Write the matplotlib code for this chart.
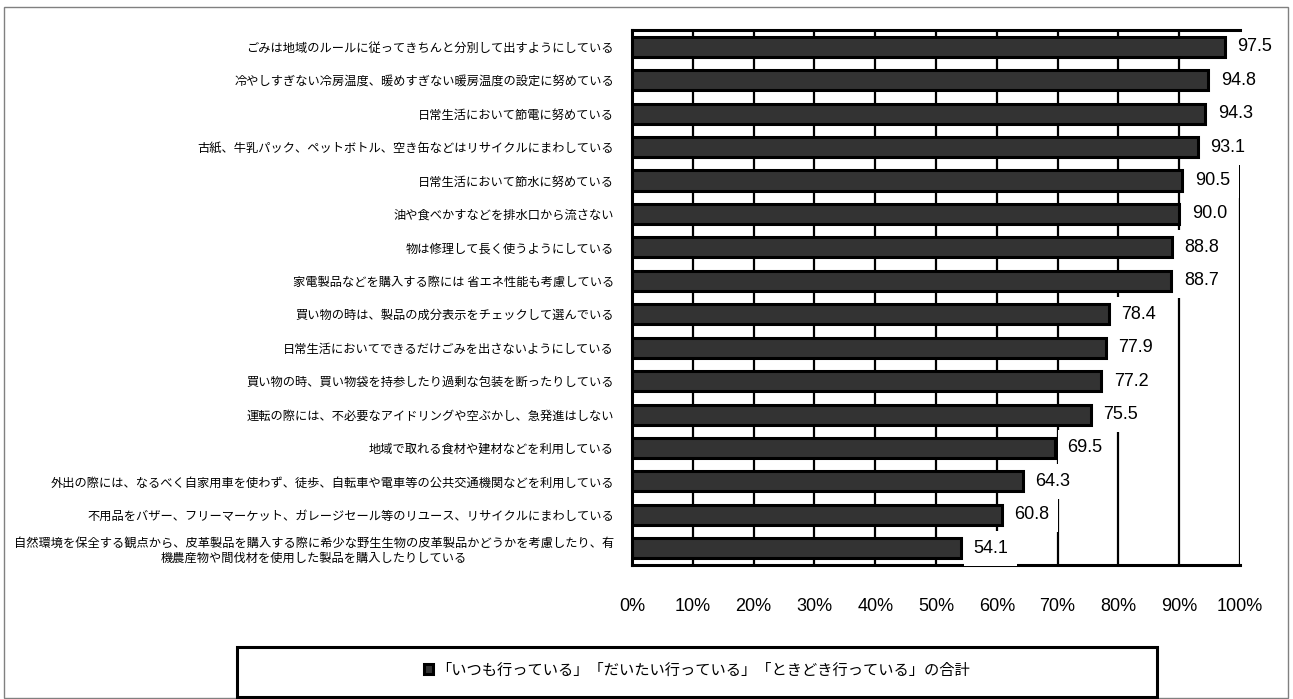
import matplotlib
matplotlib.use("Agg")
import matplotlib.pyplot as plt
from matplotlib.patches import Rectangle
import numpy as np

plt.rcParams['font.family'] = ['Noto Sans CJK JP', 'DejaVu Sans']

categories = [
    "ごみは地域のルールに従ってきちんと分別して出すようにしている",
    "冷やしすぎない冷房温度、暖めすぎない暖房温度の設定に努めている",
    "日常生活において節電に努めている",
    "古紙、牛乳パック、ペットボトル、空き缶などはリサイクルにまわしている",
    "日常生活において節水に努めている",
    "油や食べかすなどを排水口から流さない",
    "物は修理して長く使うようにしている",
    "家電製品などを購入する際には 省エネ性能も考慮している",
    "買い物の時は、製品の成分表示をチェックして選んでいる",
    "日常生活においてできるだけごみを出さないようにしている",
    "買い物の時、買い物袋を持参したり過剰な包装を断ったりしている",
    "運転の際には、不必要なアイドリングや空ぶかし、急発進はしない",
    "地域で取れる食材や建材などを利用している",
    "外出の際には、なるべく自家用車を使わず、徒歩、自転車や電車等の公共交通機関などを利用している",
    "不用品をバザー、フリーマーケット、ガレージセール等のリユース、リサイクルにまわしている",
    "自然環境を保全する観点から、皮革製品を購入する際に希少な野生生物の皮革製品かどうかを考慮したり、有\n機農産物や間伐材を使用した製品を購入したりしている",
]
values = [97.5, 94.8, 94.3, 93.1, 90.5, 90.0, 88.8, 88.7, 78.4, 77.9, 77.2, 75.5, 69.5, 64.3, 60.8, 54.1]
xticks = [0, 10, 20, 30, 40, 50, 60, 70, 80, 90, 100]
xticklabels = ["0%", "10%", "20%", "30%", "40%", "50%", "60%", "70%", "80%", "90%", "100%"]
legend_label = "「いつも行っている」「だいたい行っている」「ときどき行っている」の合計"

W, H = 1293, 699
fig = plt.figure(figsize=(W / 100, H / 100), dpi=100)

# outer gray border
fig.patches.append(Rectangle((4 / W, 0.002), (1288 - 4) / W, 1 - 7 / H - 0.002,
                             transform=fig.transFigure, fill=False,
                             edgecolor='#808080', linewidth=1.0))

ax = fig.add_axes([632 / W, 1 - 565 / H, (1240 - 632) / W, (565 - 30) / H])

y = np.arange(len(values))
bars = ax.barh(y, values, height=0.6, color='#333333', edgecolor='black',
               linewidth=2.2, zorder=3)
ax.set_xlim(0, 100)
ax.set_ylim(len(values) - 0.5, -0.5)

ax.set_yticks(y)
ax.set_yticklabels(categories, fontsize=8.8, multialignment='center')
ax.set_xticks(xticks)
ax.set_xticklabels(xticklabels, fontsize=13, family=['Liberation Sans', 'DejaVu Sans'])
ax.tick_params(axis='both', length=0)
ax.tick_params(axis='x', pad=24)
ax.tick_params(axis='y', pad=13)

ax.xaxis.grid(True, color='black', linewidth=1.6, zorder=1)
ax.set_axisbelow(True)
for s in ['top', 'left', 'bottom']:
    ax.spines[s].set_linewidth(2.2)
    ax.spines[s].set_color('black')
ax.spines['top'].set_zorder(8)
ax.spines['right'].set_visible(False)

for yi, v in zip(y, values):
    ax.annotate(f"{v:.1f}", xy=(v, yi), xytext=(9, 0), textcoords='offset points',
                ha='left', va='center', fontsize=13,
                family=['Liberation Sans', 'DejaVu Sans'], zorder=6,
                bbox=dict(boxstyle='square,pad=0.5', facecolor='white', edgecolor='none'),
                annotation_clip=False)

# legend box
fig.patches.append(Rectangle((237 / W, 1 - 697 / H), (1157 - 237) / W, (697 - 647) / H,
                             transform=fig.transFigure, fill=False,
                             edgecolor='black', linewidth=2.2, zorder=5))
leg = fig.legend([bars], [legend_label], loc='center',
                 bbox_to_anchor=(697 / W, 1 - 670 / H), frameon=False,
                 fontsize=11, handlelength=0.6, handleheight=0.6,
                 handletextpad=0.2)

fig.savefig("out.png", dpi=100, facecolor='white')
